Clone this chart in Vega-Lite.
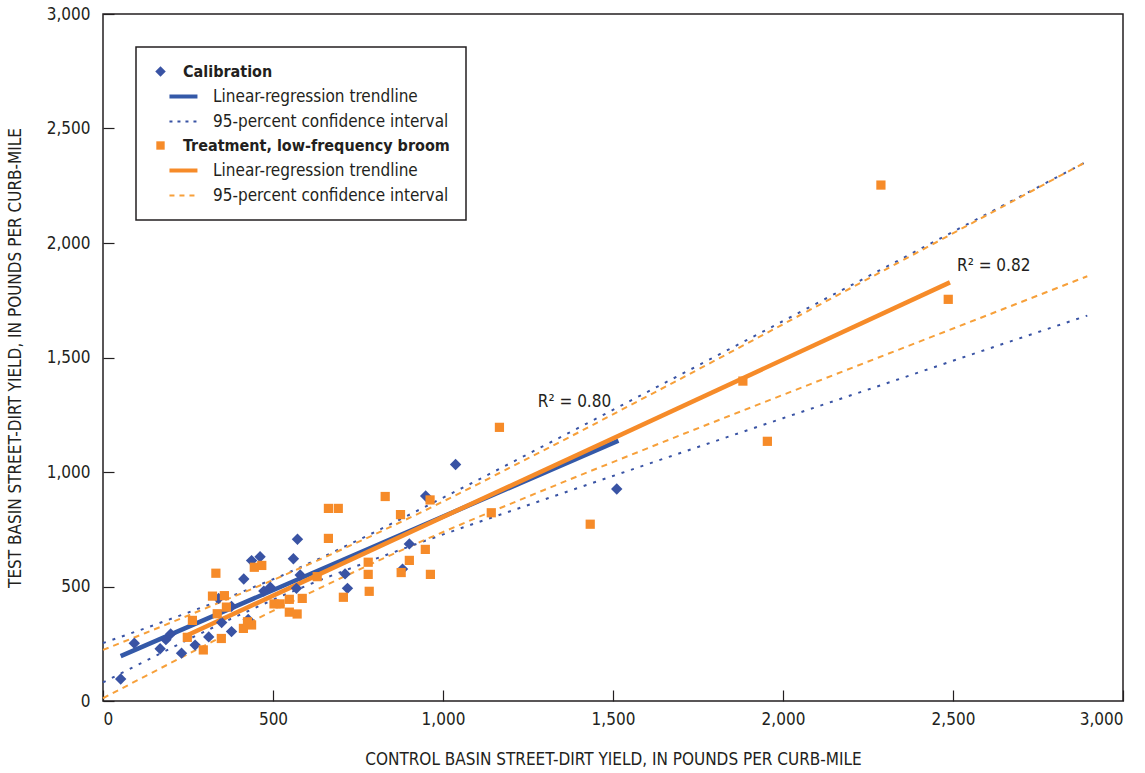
{
  "$schema": "https://vega.github.io/schema/vega-lite/v6.json",
  "width": 1020,
  "height": 687,
  "autosize": {"type": "none"},
  "padding": {"left": 103, "top": 14, "right": 22, "bottom": 72},
  "background": "white",
  "config": {
    "view": {"stroke": "#231f20", "strokeWidth": 1.5},
    "font": "Liberation Sans Narrow, DejaVu Sans Condensed, sans-serif",
    "axis": {
      "grid": false,
      "domain": false,
      "tickColor": "#231f20",
      "tickSize": -11,
      "tickWidth": 1.2,
      "labelFont": "Liberation Sans Narrow, DejaVu Sans Condensed, sans-serif",
      "labelFontSize": 17,
      "labelColor": "#231f20",
      "titleFont": "Liberation Sans Narrow, DejaVu Sans Condensed, sans-serif",
      "titleFontSize": 17,
      "titleFontWeight": "normal",
      "titleColor": "#231f20"
    }
  },
  "datasets": {
    "points": [
      {"x": 52, "y": 96, "key": "a1"},
      {"x": 92, "y": 252, "key": "a1"},
      {"x": 168, "y": 228, "key": "a1"},
      {"x": 199, "y": 293, "key": "a1"},
      {"x": 185, "y": 268, "key": "a1"},
      {"x": 231, "y": 209, "key": "a1"},
      {"x": 271, "y": 244, "key": "a1"},
      {"x": 311, "y": 280, "key": "a1"},
      {"x": 378, "y": 303, "key": "a1"},
      {"x": 349, "y": 343, "key": "a1"},
      {"x": 340, "y": 448, "key": "a1"},
      {"x": 378, "y": 413, "key": "a1"},
      {"x": 414, "y": 533, "key": "a1"},
      {"x": 437, "y": 613, "key": "a1"},
      {"x": 462, "y": 630, "key": "a1"},
      {"x": 427, "y": 356, "key": "a1"},
      {"x": 473, "y": 480, "key": "a1"},
      {"x": 492, "y": 497, "key": "a1"},
      {"x": 572, "y": 706, "key": "a1"},
      {"x": 560, "y": 621, "key": "a1"},
      {"x": 580, "y": 550, "key": "a1"},
      {"x": 569, "y": 492, "key": "a1"},
      {"x": 712, "y": 555, "key": "a1"},
      {"x": 719, "y": 492, "key": "a1"},
      {"x": 1037, "y": 1033, "key": "a1"},
      {"x": 949, "y": 895, "key": "a1"},
      {"x": 901, "y": 686, "key": "a1"},
      {"x": 881, "y": 576, "key": "a1"},
      {"x": 1511, "y": 926, "key": "a1"},
      {"x": 663, "y": 841, "key": "a4"},
      {"x": 692, "y": 841, "key": "a4"},
      {"x": 663, "y": 710, "key": "a4"},
      {"x": 332, "y": 558, "key": "a4"},
      {"x": 445, "y": 584, "key": "a4"},
      {"x": 467, "y": 592, "key": "a4"},
      {"x": 322, "y": 458, "key": "a4"},
      {"x": 357, "y": 460, "key": "a4"},
      {"x": 363, "y": 410, "key": "a4"},
      {"x": 336, "y": 381, "key": "a4"},
      {"x": 263, "y": 352, "key": "a4"},
      {"x": 248, "y": 278, "key": "a4"},
      {"x": 295, "y": 223, "key": "a4"},
      {"x": 348, "y": 273, "key": "a4"},
      {"x": 413, "y": 317, "key": "a4"},
      {"x": 425, "y": 346, "key": "a4"},
      {"x": 437, "y": 332, "key": "a4"},
      {"x": 503, "y": 424, "key": "a4"},
      {"x": 521, "y": 424, "key": "a4"},
      {"x": 548, "y": 444, "key": "a4"},
      {"x": 548, "y": 388, "key": "a4"},
      {"x": 571, "y": 380, "key": "a4"},
      {"x": 586, "y": 448, "key": "a4"},
      {"x": 630, "y": 543, "key": "a4"},
      {"x": 707, "y": 453, "key": "a4"},
      {"x": 1166, "y": 1195, "key": "a4"},
      {"x": 830, "y": 893, "key": "a4"},
      {"x": 875, "y": 814, "key": "a4"},
      {"x": 962, "y": 878, "key": "a4"},
      {"x": 1142, "y": 822, "key": "a4"},
      {"x": 948, "y": 662, "key": "a4"},
      {"x": 901, "y": 614, "key": "a4"},
      {"x": 780, "y": 606, "key": "a4"},
      {"x": 780, "y": 553, "key": "a4"},
      {"x": 877, "y": 561, "key": "a4"},
      {"x": 963, "y": 553, "key": "a4"},
      {"x": 783, "y": 479, "key": "a4"},
      {"x": 1433, "y": 772, "key": "a4"},
      {"x": 1954, "y": 1134, "key": "a4"},
      {"x": 1882, "y": 1397, "key": "a4"},
      {"x": 2288, "y": 2253, "key": "a4"},
      {"x": 2486, "y": 1754, "key": "a4"}
    ],
    "trend": [
      {"x": 52, "y": 196, "key": "a2", "line": "cal"},
      {"x": 1516, "y": 1137, "key": "a2", "line": "cal"},
      {"x": 251, "y": 289, "key": "a5", "line": "trt"},
      {"x": 2491, "y": 1828, "key": "a5", "line": "trt"}
    ],
    "ci": [
      {"x": 0, "y": 253, "key": "a3", "line": "cu"},
      {"x": 125, "y": 318, "key": "a3", "line": "cu"},
      {"x": 250, "y": 386, "key": "a3", "line": "cu"},
      {"x": 375, "y": 456, "key": "a3", "line": "cu"},
      {"x": 524, "y": 546, "key": "a3", "line": "cu"},
      {"x": 650, "y": 631, "key": "a3", "line": "cu"},
      {"x": 800, "y": 738, "key": "a3", "line": "cu"},
      {"x": 950, "y": 850, "key": "a3", "line": "cu"},
      {"x": 1100, "y": 963, "key": "a3", "line": "cu"},
      {"x": 1400, "y": 1194, "key": "a3", "line": "cu"},
      {"x": 1700, "y": 1426, "key": "a3", "line": "cu"},
      {"x": 2000, "y": 1659, "key": "a3", "line": "cu"},
      {"x": 2300, "y": 1893, "key": "a3", "line": "cu"},
      {"x": 2600, "y": 2127, "key": "a3", "line": "cu"},
      {"x": 2895, "y": 2357, "key": "a3", "line": "cu"},
      {"x": 0, "y": 81, "key": "a3", "line": "cl"},
      {"x": 125, "y": 175, "key": "a3", "line": "cl"},
      {"x": 250, "y": 268, "key": "a3", "line": "cl"},
      {"x": 375, "y": 358, "key": "a3", "line": "cl"},
      {"x": 524, "y": 458, "key": "a3", "line": "cl"},
      {"x": 650, "y": 535, "key": "a3", "line": "cl"},
      {"x": 800, "y": 620, "key": "a3", "line": "cl"},
      {"x": 950, "y": 701, "key": "a3", "line": "cl"},
      {"x": 1100, "y": 779, "key": "a3", "line": "cl"},
      {"x": 1400, "y": 932, "key": "a3", "line": "cl"},
      {"x": 1700, "y": 1084, "key": "a3", "line": "cl"},
      {"x": 2000, "y": 1235, "key": "a3", "line": "cl"},
      {"x": 2300, "y": 1385, "key": "a3", "line": "cl"},
      {"x": 2600, "y": 1536, "key": "a3", "line": "cl"},
      {"x": 2895, "y": 1683, "key": "a3", "line": "cl"},
      {"x": 0, "y": 223, "key": "a6", "line": "tu"},
      {"x": 125, "y": 297, "key": "a6", "line": "tu"},
      {"x": 250, "y": 373, "key": "a6", "line": "tu"},
      {"x": 375, "y": 450, "key": "a6", "line": "tu"},
      {"x": 500, "y": 528, "key": "a6", "line": "tu"},
      {"x": 650, "y": 626, "key": "a6", "line": "tu"},
      {"x": 800, "y": 728, "key": "a6", "line": "tu"},
      {"x": 950, "y": 834, "key": "a6", "line": "tu"},
      {"x": 1100, "y": 945, "key": "a6", "line": "tu"},
      {"x": 1400, "y": 1174, "key": "a6", "line": "tu"},
      {"x": 1700, "y": 1408, "key": "a6", "line": "tu"},
      {"x": 2000, "y": 1645, "key": "a6", "line": "tu"},
      {"x": 2300, "y": 1883, "key": "a6", "line": "tu"},
      {"x": 2600, "y": 2122, "key": "a6", "line": "tu"},
      {"x": 2895, "y": 2357, "key": "a6", "line": "tu"},
      {"x": 0, "y": 12, "key": "a6", "line": "tl"},
      {"x": 125, "y": 109, "key": "a6", "line": "tl"},
      {"x": 250, "y": 205, "key": "a6", "line": "tl"},
      {"x": 375, "y": 300, "key": "a6", "line": "tl"},
      {"x": 500, "y": 394, "key": "a6", "line": "tl"},
      {"x": 650, "y": 502, "key": "a6", "line": "tl"},
      {"x": 800, "y": 606, "key": "a6", "line": "tl"},
      {"x": 950, "y": 706, "key": "a6", "line": "tl"},
      {"x": 1100, "y": 801, "key": "a6", "line": "tl"},
      {"x": 1400, "y": 984, "key": "a6", "line": "tl"},
      {"x": 1700, "y": 1162, "key": "a6", "line": "tl"},
      {"x": 2000, "y": 1337, "key": "a6", "line": "tl"},
      {"x": 2300, "y": 1511, "key": "a6", "line": "tl"},
      {"x": 2600, "y": 1684, "key": "a6", "line": "tl"},
      {"x": 2895, "y": 1855, "key": "a6", "line": "tl"}
    ],
    "notes": [
      {"x": 1279, "y": 1306, "text": "R² = 0.80"},
      {"x": 2512, "y": 1900, "text": "R² = 0.82"}
    ]
  },
  "encoding": {
    "x": {
      "field": "x",
      "type": "quantitative",
      "scale": {"domain": [0, 3000], "nice": false, "zero": false},
      "axis": {
        "values": [0, 500, 1000, 1500, 2000, 2500, 3000],
        "format": ",.0f",
        "labelPadding": 21,
        "title": "CONTROL BASIN STREET-DIRT YIELD, IN POUNDS PER CURB-MILE",
        "titlePadding": 24
      }
    },
    "y": {
      "field": "y",
      "type": "quantitative",
      "scale": {"domain": [0, 3000], "nice": false, "zero": false},
      "axis": {
        "values": [0, 500, 1000, 1500, 2000, 2500, 3000],
        "format": ",.0f",
        "labelPadding": 24,
        "title": "TEST BASIN STREET-DIRT YIELD, IN POUNDS PER CURB-MILE",
        "titlePadding": 22
      }
    }
  },
  "layer": [
    {
      "data": {"name": "ci"},
      "mark": {"type": "line", "strokeWidth": 2},
      "encoding": {
        "color": {
          "field": "key",
          "type": "nominal",
          "scale": {
            "domain": ["a1", "a2", "a3", "a4", "a5", "a6"],
            "range": ["#3953a4", "#3459a8", "#3953a4", "#f68b29", "#f68b29", "#f7a03a"]
          },
          "legend": {
            "title": null,
            "orient": "top-left",
            "offset": 33,
            "padding": 16,
            "strokeColor": "#231f20",
            "fillColor": "white",
            "labelExpr": "{'a1':'Calibration','a2':'Linear-regression trendline','a3':'95-percent confidence interval','a4':'Treatment, low-frequency broom','a5':'Linear-regression trendline','a6':'95-percent confidence interval'}[datum.value]",
            "labelFont": "Liberation Sans Narrow, DejaVu Sans Condensed, sans-serif",
            "labelFontSize": 17,
            "labelColor": "#231f20",
            "labelLimit": 500,
            "labelOffset": 14,
            "rowPadding": 7,
            "encode": {
              "symbols": {
                "update": {
                  "shape": {"signal": "datum.value=='a1'?'diamond':datum.value=='a4'?'square':'M0.64,0H2.64'"},
                  "size": {"signal": "datum.value=='a1'?110:datum.value=='a4'?70:784"},
                  "strokeWidth": {"signal": "(datum.value=='a2'||datum.value=='a5')?4:(datum.value=='a1'||datum.value=='a4')?0:2"},
                  "strokeDash": {"signal": "datum.value=='a3'?[3,5]:datum.value=='a6'?[5,5]:[1,0]"},
                  "fill": {"signal": "scale('color', datum.value)"},
                  "stroke": {"signal": "scale('color', datum.value)"},
                  "opacity": {"value": 1}
                }
              },
              "labels": {
                "update": {
                  "fontWeight": {"signal": "(datum.value=='a1'||datum.value=='a4')?'bold':'normal'"},
                  "fontSize": {"signal": "(datum.value=='a1'||datum.value=='a4')?16:17"},
                  "dx": {"signal": "(datum.value=='a1'||datum.value=='a4')?0:30"}
                }
              },
              "legend": {"update": {"strokeWidth": {"value": 1.5}}}
            }
          }
        },
        "detail": {"field": "line", "type": "nominal"},
        "strokeDash": {
          "field": "key",
          "type": "nominal",
          "scale": {"domain": ["a3", "a6"], "range": [[3, 7], [6, 5]]},
          "legend": null
        }
      }
    },
    {
      "data": {"name": "trend"},
      "mark": {"type": "line", "strokeWidth": 4.5, "strokeCap": "butt"},
      "encoding": {
        "color": {"field": "key", "type": "nominal"},
        "detail": {"field": "line", "type": "nominal"}
      }
    },
    {
      "data": {"name": "points"},
      "mark": {"type": "point", "filled": true, "opacity": 1, "strokeWidth": 0},
      "encoding": {
        "color": {"field": "key", "type": "nominal"},
        "shape": {
          "field": "key",
          "type": "nominal",
          "scale": {"domain": ["a1", "a4"], "range": ["diamond", "square"]},
          "legend": null
        },
        "size": {
          "field": "key",
          "type": "nominal",
          "scale": {"domain": ["a1", "a4"], "range": [130, 85]},
          "legend": null
        }
      }
    },
    {
      "data": {"name": "notes"},
      "mark": {"type": "text", "align": "left", "baseline": "middle", "fontSize": 17, "color": "#231f20", "font": "Liberation Sans Narrow, DejaVu Sans Condensed, sans-serif"},
      "encoding": {
        "text": {"field": "text", "type": "nominal"}
      }
    }
  ]
}
